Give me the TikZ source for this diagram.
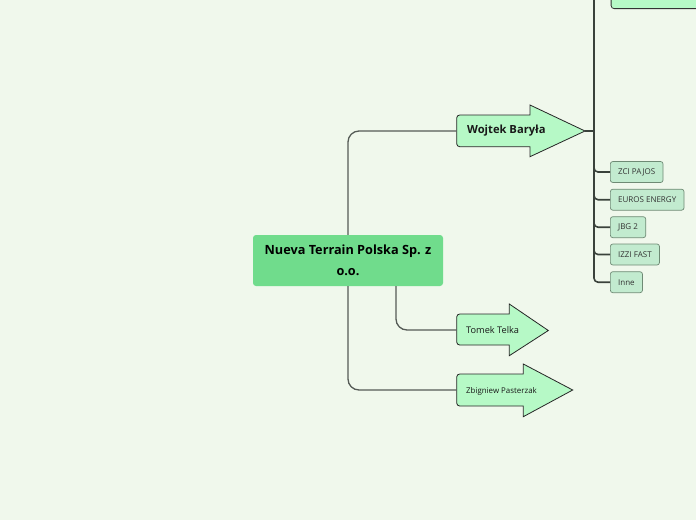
\documentclass[tikz,border=0pt]{standalone}
\usepackage{fontspec}
\setmainfont{Open Sans}
\usetikzlibrary{positioning}

\definecolor{bgcol}{HTML}{F0F8EC}
\definecolor{rootcol}{HTML}{70DC8C}
\definecolor{armcol}{HTML}{B6F9C6}
\definecolor{leafcol}{HTML}{C2EBCF}
\definecolor{leafline}{HTML}{6E8A74}
\definecolor{trunkcol}{HTML}{3A423B}
\definecolor{branchcol}{HTML}{555B56}

\tikzset{
    rootnode/.style={rectangle, rounded corners=3pt, fill=rootcol, minimum width=190pt, minimum height=51pt, align=center, font=\bfseries\fontsize{12.7}{21}\selectfont},
    armshape/.style={draw=black!85, fill=armcol, line width=0.8pt, line join=miter},
    armtext/.style={anchor=west, inner sep=0pt, text=black!90},
    leaf/.style={rectangle, rounded corners=2.5pt, draw=leafline, fill=leafcol, line width=0.7pt, minimum height=21pt, inner xsep=7.8pt, anchor=west, text=black!80, font=\fontsize{8}{8}\selectfont},
    branch/.style={draw=branchcol, line width=1.3pt, rounded corners=11pt},
    trunk/.style={draw=trunkcol, line width=1.6pt, rounded corners=4pt},
}

\begin{document}
\begin{tikzpicture}[x=1pt, y=-1pt]
    \useasboundingbox (0,0) rectangle (696,520);
    \clip (0,0) rectangle (696,520);
    \fill[bgcol] (0,0) rectangle (696,520);

    % centre
    \node[rootnode] (root) at (348,260.5) {Nueva Terrain Polska Sp. z\\o.o.};

    % people (arrow shapes)
    \draw[armshape] [rounded corners=3pt] (493,115) -- (456.7,115) -- (456.7,146.7) -- (493,146.7) [sharp corners] -- (530,146.7) -- (530,156.7) -- (585,131) -- (530,105) -- (530,115) -- cycle;
    \coordinate (wojtek-in) at (456.7,131);
    \coordinate (wojtek-tip) at (585,131);
    \node[armtext, font=\bfseries\fontsize{11.2}{13}\selectfont] (wojtek) at (467,131) {Wojtek Baryła};

    \draw[armshape] [rounded corners=3pt] (483,314) -- (456.7,314) -- (456.7,345) -- (483,345) [sharp corners] -- (509.3,345) -- (509.3,355.7) -- (548.3,330.5) -- (509.3,304) -- (509.3,314) -- cycle;
    \coordinate (tomek-in) at (456.7,330);
    \node[armtext, font=\fontsize{9.2}{11}\selectfont] (tomek) at (466,330.5) {Tomek Telka};

    \draw[armshape] [rounded corners=3pt] (490,374) -- (456.7,374) -- (456.7,406) -- (490,406) [sharp corners] -- (523.3,406) -- (523.3,416.7) -- (572.7,390) -- (523.3,364) -- (523.3,374) -- cycle;
    \coordinate (zbig-in) at (456.7,390);
    \node[armtext, font=\fontsize{7.9}{9}\selectfont] (zbig) at (466,391) {Zbigniew Pasterzak};

    % branches from the centre
    \draw[branch] (root.north) |- (wojtek-in);
    \draw[branch] ([xshift=48pt]root.south) |- (tomek-in);
    \draw[branch] (root.south) |- (zbig-in);

    % Wojtek's children
    \node[rectangle, rounded corners=3pt, draw=black!80, fill=armcol, line width=0.8pt, minimum width=110pt, minimum height=49pt, anchor=south west] (upper) at (610.7,9) {};
    \node[leaf] (zci) at (610,172) {ZCI PAJOS};
    \node[leaf] (euros) at (610,199.7) {EUROS ENERGY};
    \node[leaf] (jbg) at (610,227.2) {JBG 2};
    \node[leaf] (izzi) at (610,254.5) {IZZI FAST};
    \node[leaf] (inne) at (610,282.2) {Inne};

    \coordinate (hub) at (594,131);
    \draw[trunk] (wojtek-tip) -- (hub);
    \draw[trunk] (hub) |- (upper.west);
    \foreach \leafname in {zci, euros, jbg, izzi, inne}
        \draw[trunk] (hub) |- (\leafname.west);
\end{tikzpicture}
\end{document}
